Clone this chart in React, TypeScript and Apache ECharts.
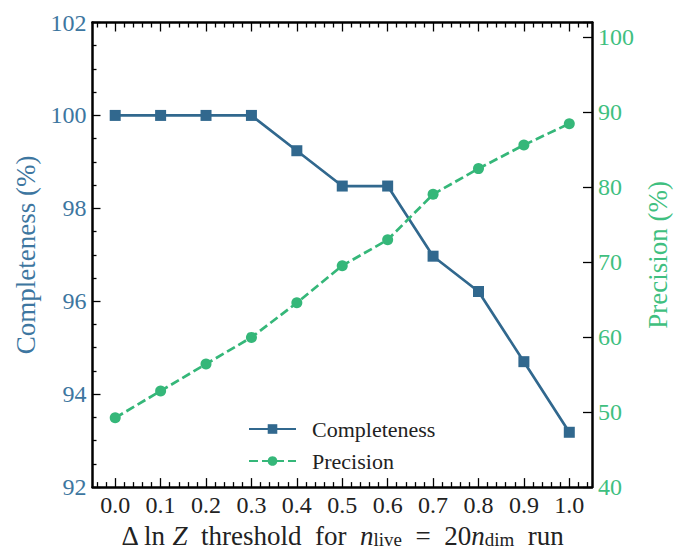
import React, { useEffect, useRef } from "react";
import * as echarts from "echarts";

const thresholds = [0.0, 0.1, 0.2, 0.3, 0.4, 0.5, 0.6, 0.7, 0.8, 0.9, 1.0];
const completeness = [100, 100, 100, 100, 99.24, 98.48, 98.48, 96.97, 96.21, 94.7, 93.18];
const precision = [49.24, 52.83, 56.43, 59.98, 64.59, 69.55, 73.0, 79.07, 82.5, 85.65, 88.5];
const majorXTicks = [0.0, 0.1, 0.2, 0.3, 0.4, 0.5, 0.6, 0.7, 0.8, 0.9, 1.0];
const minorXTicks = [
  -0.04, -0.02, 0.02, 0.04, 0.06, 0.08, 0.12, 0.14, 0.16, 0.18, 0.22, 0.24, 0.26, 0.28,
  0.32, 0.34, 0.36, 0.38, 0.42, 0.44, 0.46, 0.48, 0.52, 0.54, 0.56, 0.58, 0.62, 0.64,
  0.66, 0.68, 0.72, 0.74, 0.76, 0.78, 0.82, 0.84, 0.86, 0.88, 0.92, 0.94, 0.96, 0.98,
  1.02, 1.04,
];

const FONT = "'Liberation Serif', 'Times New Roman', serif";
const BLUE = "#31688e";
const GREEN = "#35b779";
const BLUE_TEXT = "#3d76a0";
const GREEN_TEXT = "#3fbf80";

export default function App() {
  const ref = useRef<HTMLDivElement>(null);
  useEffect(() => {
    if (!ref.current) return;
    const chart = echarts.init(ref.current, undefined, { renderer: "svg" });
    const frameLine = { show: true, onZero: false, lineStyle: { color: "#000", width: 2.5 } };
    const tickStyle = { color: "#000", width: 1.3 };
    const xBase = { type: "value" as const, min: -0.05, max: 1.05, splitLine: { show: false } };
    chart.setOption({
      animation: false,
      textStyle: { fontFamily: FONT },
      grid: { left: 92.5, right: 92, top: 22.5, bottom: 60.5, containLabel: false },
      legend: {
        data: ["Completeness", "Precision"],
        orient: "vertical",
        left: 243,
        top: 413,
        itemWidth: 47,
        itemHeight: 12,
        itemGap: 10,
        formatter: (name: string) => "  " + name,
        textStyle: { fontFamily: FONT, fontSize: 22, color: "#222" },
      },
      xAxis: [
        {
          ...xBase,
          position: "bottom",
          axisLine: frameLine,
          axisTick: { show: true, inside: true, length: 9, customValues: majorXTicks, lineStyle: tickStyle },
          axisLabel: {
            show: true,
            customValues: majorXTicks,
            formatter: (v: number) => v.toFixed(1),
            fontFamily: FONT,
            fontSize: 24,
            color: "#222",
            margin: 6,
          },
          name: "Δ ln {i|Z}  threshold  for  {i|n}{sub|live}  =  20{i|n}{sub|dim}  run",
          nameLocation: "middle",
          nameGap: 30,
          nameTextStyle: {
            fontFamily: FONT,
            fontSize: 27,
            color: "#222",
            rich: {
              i: { fontFamily: FONT, fontSize: 27, fontStyle: "italic", color: "#222" },
              sub: { fontFamily: FONT, fontSize: 19, color: "#222", verticalAlign: "bottom", padding: [8, 0, 0, 0] },
            },
          },
        },
        {
          ...xBase,
          position: "bottom",
          axisLine: { show: false, onZero: false },
          axisTick: { show: true, inside: true, length: 5, customValues: minorXTicks, lineStyle: tickStyle },
          axisLabel: { show: false },
        },
        {
          ...xBase,
          position: "top",
          axisLine: frameLine,
          axisTick: { show: true, inside: true, length: 9, customValues: majorXTicks, lineStyle: tickStyle },
          axisLabel: { show: false },
        },
        {
          ...xBase,
          position: "top",
          axisLine: { show: false, onZero: false },
          axisTick: { show: true, inside: true, length: 5, customValues: minorXTicks, lineStyle: tickStyle },
          axisLabel: { show: false },
        },
      ],
      yAxis: [
        {
          type: "value",
          position: "left",
          min: 92,
          max: 102,
          interval: 2,
          axisLine: frameLine,
          axisTick: { show: true, inside: true, length: 8, lineStyle: tickStyle },
          minorTick: { show: true, splitNumber: 4, length: 4, lineStyle: tickStyle },
          splitLine: { show: false },
          minorSplitLine: { show: false },
          axisLabel: { fontFamily: FONT, fontSize: 24, color: BLUE_TEXT, margin: 6 },
          name: "Completeness (%)",
          nameLocation: "middle",
          nameRotate: 90,
          nameGap: 53,
          nameTextStyle: { fontFamily: FONT, fontSize: 27, color: BLUE_TEXT },
        },
        {
          type: "value",
          position: "right",
          min: 40,
          max: 102,
          interval: 10,
          axisLine: frameLine,
          axisTick: { show: true, inside: true, length: 9, lineStyle: tickStyle },
          splitLine: { show: false },
          axisLabel: {
            fontFamily: FONT,
            fontSize: 24,
            color: GREEN_TEXT,
            margin: 6,
            formatter: (v: number) => (Math.abs(v % 10) < 1e-6 ? String(v) : ""),
          },
          name: "Precision (%)",
          nameLocation: "middle",
          nameRotate: 90,
          nameGap: 47,
          nameTextStyle: { fontFamily: FONT, fontSize: 27, color: GREEN_TEXT },
        },
      ],
      series: [
        {
          name: "Completeness",
          type: "line",
          xAxisIndex: 0,
          yAxisIndex: 0,
          data: thresholds.map((t, i) => [t, completeness[i]]),
          symbol: "rect",
          symbolSize: 11,
          lineStyle: { color: BLUE, width: 2.7 },
          itemStyle: { color: BLUE },
        },
        {
          name: "Precision",
          type: "line",
          xAxisIndex: 0,
          yAxisIndex: 1,
          data: thresholds.map((t, i) => [t, precision[i]]),
          symbol: "circle",
          symbolSize: 11,
          lineStyle: { color: GREEN, width: 2.7, type: [9, 4] },
          itemStyle: { color: GREEN },
        },
      ],
    });
    return () => chart.dispose();
  }, []);
  return (
    <div
      ref={ref}
      style={{ position: "absolute", left: 0, top: 0, width: 684, height: 554, background: "#fff" }}
    />
  );
}
